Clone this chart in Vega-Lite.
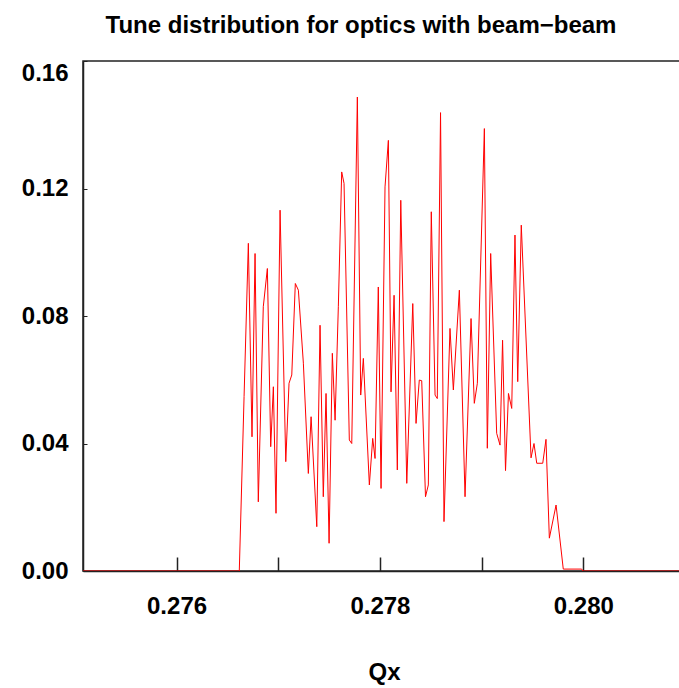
{
  "$schema": "https://vega.github.io/schema/vega-lite/v6.json",
  "autosize": {"type": "none"},
  "padding": {"left": 83, "top": 61, "right": 0, "bottom": 117},
  "width": 602,
  "height": 510,
  "background": "white",
  "title": {
    "text": "Tune distribution for optics with beam\u2212beam",
    "font": "Liberation Sans",
    "fontSize": 24,
    "fontWeight": "bold",
    "color": "#000",
    "anchor": "middle",
    "dx": -23,
    "baseline": "alphabetic",
    "offset": 4
  },
  "config": {
    "view": {"stroke": "#222", "strokeWidth": 1.5},
    "axis": {"grid": false}
  },
  "data": {
    "values": [
      {"qx": 0.275081, "p": 0},
      {"qx": 0.276617, "p": 0},
      {"qx": 0.276664, "p": 0.0547},
      {"qx": 0.276706, "p": 0.1028},
      {"qx": 0.276742, "p": 0.0421},
      {"qx": 0.276772, "p": 0.0996},
      {"qx": 0.276804, "p": 0.0217},
      {"qx": 0.276853, "p": 0.0829},
      {"qx": 0.276893, "p": 0.0949},
      {"qx": 0.276926, "p": 0.039},
      {"qx": 0.276952, "p": 0.0578},
      {"qx": 0.276978, "p": 0.0181},
      {"qx": 0.277018, "p": 0.1132},
      {"qx": 0.277074, "p": 0.0343},
      {"qx": 0.277106, "p": 0.0589},
      {"qx": 0.277133, "p": 0.0615},
      {"qx": 0.277168, "p": 0.0902},
      {"qx": 0.277198, "p": 0.0881},
      {"qx": 0.277247, "p": 0.0652},
      {"qx": 0.277296, "p": 0.0306},
      {"qx": 0.277323, "p": 0.0484},
      {"qx": 0.277379, "p": 0.0139},
      {"qx": 0.277411, "p": 0.0771},
      {"qx": 0.277443, "p": 0.0233},
      {"qx": 0.27747, "p": 0.0557},
      {"qx": 0.2775, "p": 0.0087},
      {"qx": 0.277532, "p": 0.0683},
      {"qx": 0.277559, "p": 0.0473},
      {"qx": 0.277591, "p": 0.0829},
      {"qx": 0.277624, "p": 0.1252},
      {"qx": 0.277647, "p": 0.1216},
      {"qx": 0.277699, "p": 0.0411},
      {"qx": 0.277723, "p": 0.04},
      {"qx": 0.277778, "p": 0.1487},
      {"qx": 0.277811, "p": 0.0552},
      {"qx": 0.277837, "p": 0.0667},
      {"qx": 0.277896, "p": 0.027},
      {"qx": 0.277929, "p": 0.0416},
      {"qx": 0.277952, "p": 0.0353},
      {"qx": 0.277984, "p": 0.0891},
      {"qx": 0.278011, "p": 0.0259},
      {"qx": 0.27805, "p": 0.1205},
      {"qx": 0.278083, "p": 0.1351},
      {"qx": 0.278109, "p": 0.0562},
      {"qx": 0.278139, "p": 0.0865},
      {"qx": 0.278171, "p": 0.0317},
      {"qx": 0.278205, "p": 0.1163},
      {"qx": 0.278264, "p": 0.0275},
      {"qx": 0.278323, "p": 0.0839},
      {"qx": 0.278355, "p": 0.0463},
      {"qx": 0.278387, "p": 0.0599},
      {"qx": 0.278411, "p": 0.0597},
      {"qx": 0.278448, "p": 0.0233},
      {"qx": 0.278476, "p": 0.027},
      {"qx": 0.278505, "p": 0.1127},
      {"qx": 0.278542, "p": 0.0552},
      {"qx": 0.278564, "p": 0.0541},
      {"qx": 0.278596, "p": 0.1438},
      {"qx": 0.27863, "p": 0.0155},
      {"qx": 0.278689, "p": 0.0761},
      {"qx": 0.278722, "p": 0.0568},
      {"qx": 0.278781, "p": 0.0881},
      {"qx": 0.278837, "p": 0.0233},
      {"qx": 0.278896, "p": 0.0792},
      {"qx": 0.278928, "p": 0.0526},
      {"qx": 0.278958, "p": 0.0589},
      {"qx": 0.279027, "p": 0.1388},
      {"qx": 0.279056, "p": 0.0385},
      {"qx": 0.279089, "p": 0.0996},
      {"qx": 0.279148, "p": 0.0432},
      {"qx": 0.279181, "p": 0.0395},
      {"qx": 0.279206, "p": 0.0724},
      {"qx": 0.279235, "p": 0.0315},
      {"qx": 0.279264, "p": 0.0557},
      {"qx": 0.279296, "p": 0.051},
      {"qx": 0.279328, "p": 0.1054},
      {"qx": 0.279355, "p": 0.0594},
      {"qx": 0.27939, "p": 0.1085},
      {"qx": 0.279486, "p": 0.0355},
      {"qx": 0.279515, "p": 0.04},
      {"qx": 0.279542, "p": 0.0338},
      {"qx": 0.279601, "p": 0.0338},
      {"qx": 0.279633, "p": 0.0413},
      {"qx": 0.279666, "p": 0.0103},
      {"qx": 0.279732, "p": 0.0207},
      {"qx": 0.279803, "p": 0.0006},
      {"qx": 0.279984, "p": 0.0006},
      {"qx": 0.279997, "p": 0},
      {"qx": 0.281, "p": 0}
    ]
  },
  "mark": {"type": "line", "color": "#ff0000", "strokeWidth": 1, "clip": true},
  "encoding": {
    "x": {
      "field": "qx",
      "type": "quantitative",
      "scale": {"domain": [0.27508, 0.281], "nice": false, "zero": false},
      "axis": {
        "title": "Qx",
        "titleFont": "Liberation Sans",
        "titleFontSize": 24,
        "titleFontWeight": "bold",
        "titleColor": "#000",
        "titlePadding": 42,
        "values": [0.276, 0.277, 0.278, 0.279, 0.28],
        "labelExpr": "indexof(['0.276','0.278','0.280'], format(datum.value, '.3f')) >= 0 ? format(datum.value, '.3f') : ''",
        "labelFont": "Liberation Sans",
        "labelFontSize": 24,
        "labelFontWeight": "bold",
        "labelColor": "#000",
        "labelPadding": 37,
        "tickSize": -14,
        "tickColor": "#222",
        "tickWidth": 1.5,
        "domainColor": "#222",
        "domainWidth": 1.5,
        "labelFlush": false,
        "labelOverlap": false
      }
    },
    "y": {
      "field": "p",
      "type": "quantitative",
      "scale": {"domain": [0, 0.16], "nice": false},
      "axis": {
        "title": null,
        "values": [0, 0.04, 0.08, 0.12, 0.16],
        "format": ".2f",
        "labelFont": "Liberation Sans",
        "labelFontSize": 24,
        "labelFontWeight": "bold",
        "labelColor": "#000",
        "labelPadding": 19,
        "labelBaseline": {"condition": {"test": "datum.value >= 0.159", "value": "top"}, "value": "middle"},
        "tickSize": -4,
        "tickColor": "#222",
        "tickWidth": 1,
        "domainColor": "#222",
        "domainWidth": 1.5,
        "labelFlush": false,
        "labelOverlap": false
      }
    }
  }
}
